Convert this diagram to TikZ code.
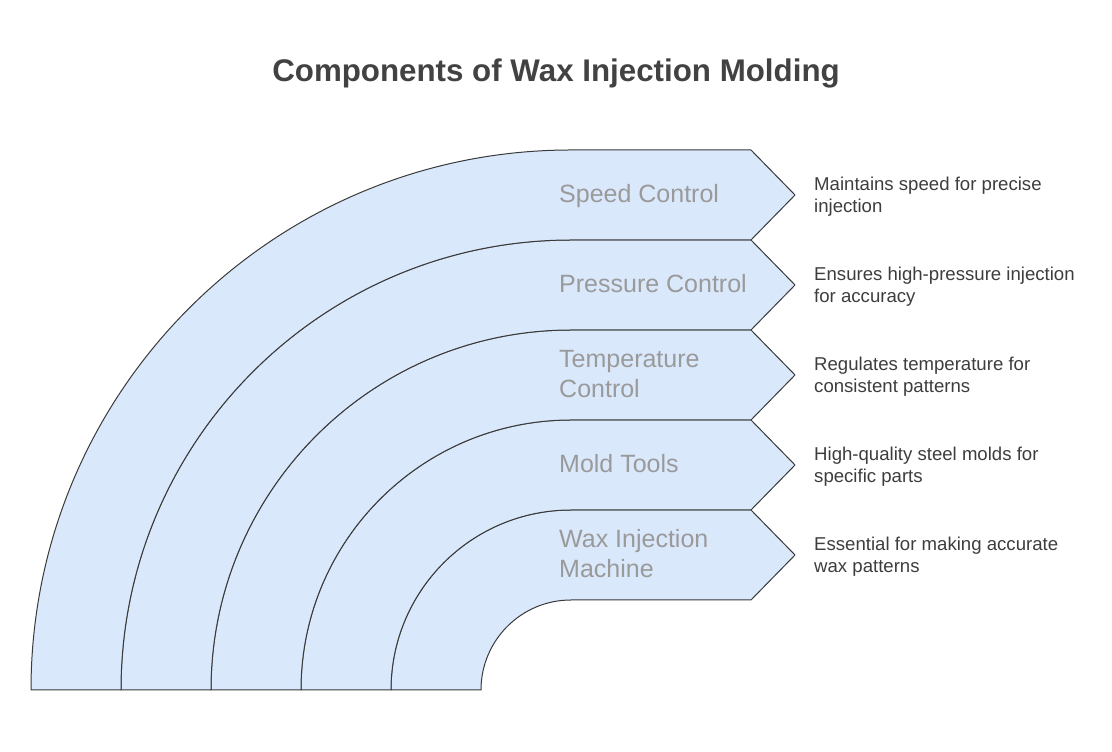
\documentclass[tikz,border=0pt]{standalone}
\usepackage{fontspec}
\setmainfont{Liberation Sans}
\definecolor{bandfill}{HTML}{DAE8FC}
\definecolor{bandline}{HTML}{3A3A3A}
\definecolor{labelgray}{HTML}{9A9A9A}
\definecolor{desc}{HTML}{3D3D3D}
\definecolor{titlec}{HTML}{424242}
\tikzset{
  band/.style={fill=bandfill, draw=bandline, line width=1pt, line join=round},
  bandlabel/.style={anchor=base west, inner sep=0pt, align=left, text=labelgray, font=\fontsize{25}{29.5}\selectfont},
  desclabel/.style={anchor=base west, inner sep=0pt, align=left, text=desc, font=\fontsize{18.6}{22}\selectfont},
}
\begin{document}
\begin{tikzpicture}[x=1pt,y=1pt]
\useasboundingbox (0,0) rectangle (1112,752);
\node[anchor=base, inner sep=0pt, font=\fontsize{31.3}{36}\selectfont\bfseries, text=titlec] (title) at (556,670) {Components of Wax Injection Molding};
% bands: center (571,62), radii 90i
\foreach \i in {1,...,5}{
  \pgfmathsetmacro{\rin}{90*\i}
  \pgfmathsetmacro{\rout}{90*(\i+1)}
  \pgfmathsetmacro{\mid}{62+(\rin+\rout)/2}
  \path[band] (571-\rout,62) arc[start angle=180, end angle=90, radius=\rout]
    -- (751,62+\rout) -- (795,\mid) -- (751,62+\rin) -- (571,62+\rin)
    arc[start angle=90, end angle=180, radius=\rin] -- cycle;
}
\node[bandlabel] (l5) at (559,549) {Speed Control};
\node[bandlabel] (l4) at (559,459) {Pressure Control};
\node[bandlabel] (l3) at (559,354.5) {Temperature\\Control};
\node[bandlabel] (l2) at (559,279) {Mold Tools};
\node[bandlabel] (l1) at (559,174.5) {Wax Injection\\Machine};
\node[desclabel] (d5) at (814,539) {Maintains speed for precise\\injection};
\node[desclabel] (d4) at (814,449) {Ensures high-pressure injection\\for accuracy};
\node[desclabel] (d3) at (814,359) {Regulates temperature for\\consistent patterns};
\node[desclabel] (d2) at (814,269) {High-quality steel molds for\\specific parts};
\node[desclabel] (d1) at (814,179) {Essential for making accurate\\wax patterns};
\end{tikzpicture}
\end{document}
